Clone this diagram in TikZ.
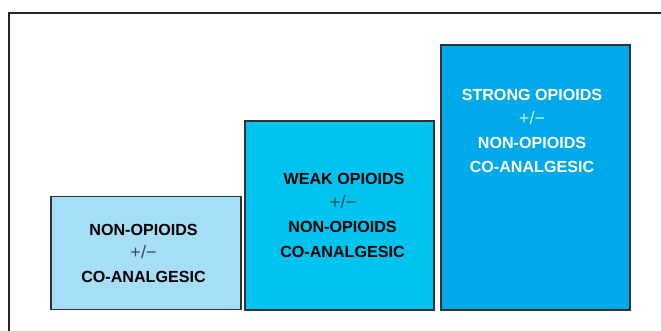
\documentclass[tikz,border=0pt]{standalone}
\usepackage{fontspec}
\setmainfont{Liberation Sans}
\definecolor{boxA}{HTML}{A6DEF7}
\definecolor{boxB}{HTML}{00C3EE}
\definecolor{boxC}{HTML}{00A9E9}
\definecolor{edge}{HTML}{2F3337}
\definecolor{pm}{HTML}{3A4A55}
\begin{document}
\begin{tikzpicture}[x=1pt,y=-1pt,
  stepbox/.style={draw=edge,line width=1.1pt,inner sep=0pt},
  lbl/.style={anchor=base,inner sep=0pt,font=\fontsize{16.1}{18}\selectfont\bfseries},
  pmlbl/.style={anchor=base,inner sep=0pt,font=\fontsize{18}{18}\selectfont}]
\useasboundingbox (0,0) rectangle (661,331);
\fill[white] (0,0) rectangle (661,331);
\coordinate (fb) at (9,340);
\coordinate (fc) at (9,13);
\coordinate (fr) at (670,13);
\draw[line width=1.3pt,black!85] (fb) -- (fc) -- (fr);
% boxes
\node[stepbox,fill=boxA,minimum width=190pt,minimum height=113pt] (b1) at (146,253) {};
\node[stepbox,fill=boxB,minimum width=189pt,minimum height=189pt] (b2) at (339.5,215.5) {};
\node[stepbox,fill=boxC,minimum width=189pt,minimum height=265pt] (b3) at (535.5,177.5) {};
% box 1 text
\node[lbl] (a1) at (143.5,235) {NON-OPIOIDS};
\node[pmlbl,text=pm] (a2) at (143.5,258.5) {+/−};
\node[lbl] (a3) at (143.5,282) {CO-ANALGESIC};
% box 2 text
\node[lbl] (c1) at (344,185) {WEAK OPIOIDS};
\node[pmlbl,text=pm] (c2) at (343,209) {+/−};
\node[lbl] (c3) at (342.5,233) {NON-OPIOIDS};
\node[lbl] (c4) at (342.5,257) {CO-ANALGESIC};
% box 3 text
\node[lbl,text=white] (d1) at (532,101) {STRONG OPIOIDS};
\node[pmlbl,text=white!80!boxC] (d2) at (532,125) {+/−};
\node[lbl,text=white] (d3) at (532,149) {NON-OPIOIDS};
\node[lbl,text=white] (d4) at (532,173) {CO-ANALGESIC};
\end{tikzpicture}
\end{document}
